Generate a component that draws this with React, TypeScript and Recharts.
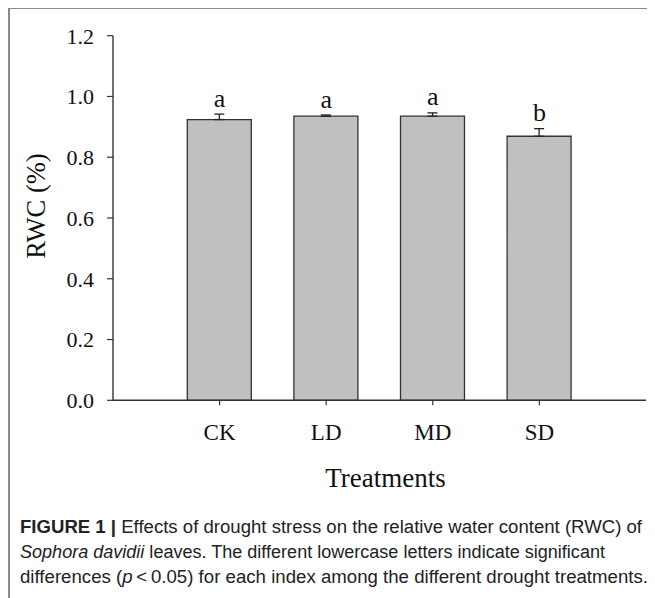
import React from 'react';
import { ComposedChart, Bar, Line, XAxis, YAxis, ErrorBar, LabelList } from 'recharts';

const categories = ['CK', 'LD', 'MD', 'SD'];
const rwcMeans = [0.924, 0.935, 0.935, 0.869];
const rwcErrors = [0.018, 0.004, 0.011, 0.025];
const letters = ['a', 'a', 'a', 'b'];
const yTicks = [0, 0.2, 0.4, 0.6, 0.8, 1.0, 1.2];

const data = categories.map((c, i) => ({
  name: c,
  rwc: rwcMeans[i],
  err: [0, rwcErrors[i]],
  top: rwcMeans[i] + rwcErrors[i],
  letter: letters[i],
}));

const SERIF = '"Liberation Serif", "Times New Roman", Times, serif';
const SANS = '"Liberation Sans Narrow", "Liberation Sans", Arial, sans-serif';
const AX = '#333';

const renderLetter = (props: any) => {
  const { x, y, value } = props;
  return (
    <text x={x} y={y - 7.5} textAnchor="middle" fontFamily={SERIF} fontSize={26} fill="#111">
      {value}
    </text>
  );
};

const yLabel = (props: any) => {
  const vb = props.viewBox || {};
  const cx = 37;
  const cy = (vb.y ?? 0) + (vb.height ?? 0) / 2 - 12;
  return (
    <text x={cx} y={cy} transform={`rotate(-90, ${cx}, ${cy})`} textAnchor="middle" fontFamily={SERIF} fontSize={26.5} fill="#111">
      RWC (%)
    </text>
  );
};

const xLabel = (props: any) => {
  const vb = props.viewBox || {};
  const cx = (vb.x ?? 0) + (vb.width ?? 0) / 2 + 6;
  const cy = (vb.y ?? 0) + 87;
  return (
    <text x={cx} y={cy} textAnchor="middle" fontFamily={SERIF} fontSize={27} fill="#111">
      Treatments
    </text>
  );
};

export default function App() {
  return (
    <div style={{ position: 'relative', width: 647, height: 591, marginTop: -1, background: '#fff' }}>
      <div style={{ position: 'absolute', left: 0, top: 0, width: 647, height: 1.5, background: '#8a8a8a' }} />
      <div style={{ position: 'absolute', left: 0, top: 0, width: 1.5, height: 591, background: '#8a8a8a' }} />
      <div style={{ position: 'absolute', left: 0, top: 1 }}>
        <ComposedChart
          width={647}
          height={500}
          data={data}
          margin={{ top: 27.7, right: 9, bottom: 7.7, left: 0 }}
        >
          <XAxis
            dataKey="name"
            xAxisId={0}
            padding={{ left: 53.3, right: 53.3 }}
            height={100}
            interval={0}
            tickSize={5}
            tickMargin={18}
            axisLine={{ stroke: AX, strokeWidth: 1.4 }}
            tickLine={{ stroke: AX, strokeWidth: 1.2 }}
            tick={{ fill: '#111', fontSize: 23, fontFamily: SERIF }}
            label={{ content: xLabel }}
          />
          <XAxis
            dataKey="name"
            xAxisId="top"
            orientation="top"
            padding={{ left: 53.3, right: 53.3 }}
            height={0}
            tick={false}
            tickLine={false}
            axisLine={{ stroke: '#666', strokeWidth: 1.4 }}
          />
          <YAxis
            yAxisId={0}
            width={105}
            domain={[0, 1.2]}
            ticks={yTicks}
            interval={0}
            tickFormatter={(v: number) => v.toFixed(1)}
            tickSize={6}
            tickMargin={13}
            axisLine={{ stroke: AX, strokeWidth: 1.4 }}
            tickLine={{ stroke: AX, strokeWidth: 1.2 }}
            tick={{ fill: '#111', fontSize: 22, fontFamily: SERIF }}
            label={{ content: yLabel }}
          />
          <YAxis
            yAxisId="right"
            orientation="right"
            width={0}
            domain={[0, 1.2]}
            tick={false}
            tickLine={false}
            axisLine={{ stroke: AX, strokeWidth: 1.4 }}
          />
          <Bar
            dataKey="rwc"
            xAxisId={0}
            yAxisId={0}
            barSize={64}
            fill="#c0c0c0"
            stroke="#333"
            strokeWidth={1.3}
            isAnimationActive={false}
          >
            <ErrorBar dataKey="err" width={5} stroke="#222" strokeWidth={1.3} direction="y" />
          </Bar>
          <Line
            dataKey="top"
            xAxisId={0}
            yAxisId={0}
            stroke="none"
            dot={false}
            activeDot={false}
            isAnimationActive={false}
            legendType="none"
          >
            <LabelList dataKey="letter" content={renderLetter} />
          </Line>
        </ComposedChart>
      </div>
      <svg
        width={647}
        height={98}
        style={{ position: 'absolute', left: 0, top: 493 }}
        fontFamily={SANS}
        fontSize={18}
        fill="#222"
      >
        <text x={12} y={33} textLength={622} lengthAdjust="spacingAndGlyphs">
          <tspan fontWeight="bold">FIGURE 1 |</tspan>
          <tspan> Effects of drought stress on the relative water content (RWC) of</tspan>
        </text>
        <text x={12} y={58} textLength={585} lengthAdjust="spacingAndGlyphs">
          <tspan fontStyle="italic">Sophora davidii</tspan>
          <tspan> leaves. The different lowercase letters indicate significant</tspan>
        </text>
        <text x={12} y={83} textLength={628} lengthAdjust="spacingAndGlyphs">
          <tspan>differences (</tspan>
          <tspan fontStyle="italic">p</tspan>
          <tspan>{'\u2009<\u20090.05) for each index among the different drought treatments.'}</tspan>
        </text>
      </svg>
    </div>
  );
}
